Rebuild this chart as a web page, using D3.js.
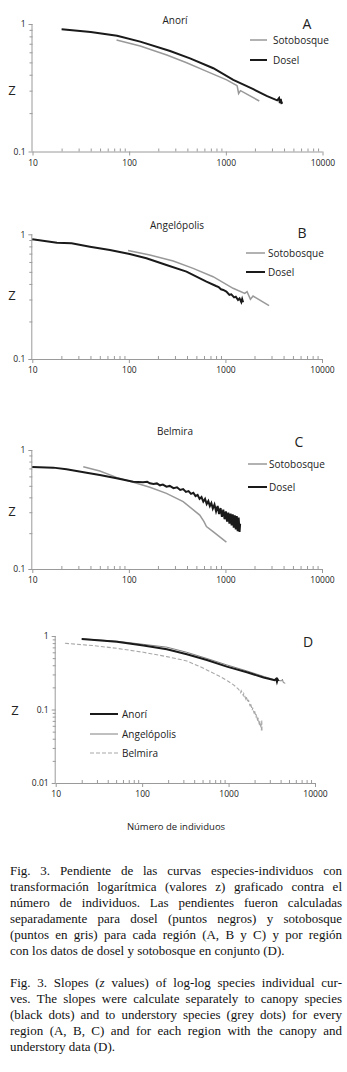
<!DOCTYPE html>
<html><head><meta charset="utf-8">
<script src="https://cdn.jsdelivr.net/npm/d3@7"></script>
<style>
html,body{margin:0;padding:0;background:#fff;}
svg{display:block;}
</style></head>
<body>
<svg id="c" width="347" height="1072"></svg>
<script>
// ---------------- DATA ----------------
const xTickValues = [10, 100, 1000, 10000];
const xTickLabels = ["10", "100", "1000", "10000"];
const yTicksABC = [0.1, 1];
const yTickLabelsABC = ["0.1", "1"];
const yTicksD = [0.01, 0.1, 1];
const yTickLabelsD = ["0.01", "0.1", "1"];
const minorFactors = [2, 3, 4, 5, 6, 7, 8, 9];

const panelTitles = ["Anorí", "Angelópolis", "Belmira"];
const panelLetters = ["A", "B", "C", "D"];
const seriesNamesABC = ["Sotobosque", "Dosel"];
const seriesNamesD = ["Anorí", "Angelópolis", "Belmira"];

// Panel A – Anorí
const anoriSotobosque = [[74,0.75],[130,0.672],[245,0.572],[393,0.497],[634,0.425],[1019,0.365],[1290,0.33],[1310,0.327],[1356,0.285],[1420,0.3],[2218,0.249]];
const anoriDosel = [[20,0.908],[40,0.866],[75,0.81],[130,0.727],[265,0.614],[426,0.538],[742,0.45],[1194,0.364],[1923,0.308],[2640,0.273],[3400,0.252],[3550,0.262],[3620,0.240],[3700,0.258],[3777,0.236],[3800,0.246]];

// Panel B – Angelópolis
const angelSotobosque = [[98,0.74],[165,0.683],[288,0.611],[463,0.533],[745,0.457],[1200,0.369],[1585,0.336],[1675,0.347],[1815,0.301],[1933,0.32],[2831,0.268]];
const angelDosel = [[10,0.912],[18,0.857],[25.5,0.847],[39.5,0.796],[63.6,0.749],[102,0.695],[152,0.642],[245,0.568],[395,0.502],[636,0.417],[800,0.385],[850,0.378],[900,0.362],[950,0.358],[1023,0.347],[1100,0.327],[1150,0.33],[1230,0.312],[1280,0.316],[1350,0.298],[1400,0.306],[1460,0.286],[1490,0.302],[1524,0.285]];

// Panel C – Belmira
const belmiraSotobosque = [[33.7,0.724],[50,0.666],[74.5,0.589],[111,0.535],[165,0.486],[245,0.432],[365,0.368],[542,0.284],[600,0.25],[636,0.227],[745,0.206],[1023,0.168]];
const belmiraDosel = [[10,0.72],[16.5,0.711],[22.6,0.688],[36.5,0.645],[50,0.616],[74.5,0.578],[111,0.542],[140,0.535],[155,0.54],[165,0.525],[180,0.518],[195,0.524],[210,0.505],[225,0.512],[245,0.492],[265,0.499],[290,0.478],[315,0.486],[340,0.462],[365,0.469],[390,0.445],[415,0.452],[440,0.428],[465,0.437],[490,0.41],[515,0.42],[540,0.388],[565,0.402],[590,0.368],[615,0.388],[640,0.352],[665,0.372],[690,0.338],[715,0.358],[740,0.322],[770,0.348],[800,0.305],[830,0.338],[860,0.29],[890,0.325],[920,0.275],[950,0.315],[980,0.262],[1010,0.305],[1040,0.25],[1070,0.298],[1100,0.24],[1130,0.292],[1160,0.232],[1190,0.288],[1220,0.222],[1250,0.282],[1280,0.215],[1310,0.278],[1340,0.208],[1370,0.27],[1400,0.205],[1420,0.24]];

// Panel D – combined
const dAnori = [[20,0.91],[51,0.838],[103.5,0.74],[193,0.659],[329,0.564],[561,0.472],[956,0.383],[1629,0.321],[2540,0.272],[3400,0.25],[3550,0.262],[3630,0.238],[3700,0.256],[3780,0.244]];
const dAngel = [[20,0.915],[51,0.85],[103.5,0.77],[193,0.705],[329,0.6],[561,0.495],[956,0.404],[1629,0.335],[2600,0.28],[3600,0.25],[4100,0.245],[4200,0.258],[4300,0.232],[4530,0.228]];
const dBelmira = [[12.8,0.795],[27.3,0.74],[51,0.68],[103.5,0.6],[193,0.524],[329,0.458],[513,0.364],[800,0.28],[1000,0.24],[1142,0.216],[1300,0.19],[1380,0.17],[1400,0.18],[1480,0.155],[1500,0.165],[1580,0.14],[1600,0.15],[1680,0.125],[1700,0.135],[1780,0.11],[1800,0.12],[1880,0.098],[1900,0.106],[1980,0.088],[2000,0.096],[2080,0.078],[2100,0.086],[2180,0.068],[2200,0.077],[2280,0.06],[2300,0.069],[2400,0.052],[2420,0.072],[2440,0.05]];

const axisTitleX = "Número de individuos";
const axisTitleY = "Z";

const captionES = [
 "Fig. 3. Pendiente de las curvas especies-individuos con",
 "transformación logarítmica (valores z) graficado contra el",
 "número de individuos. Las pendientes fueron calculadas",
 "separadamente para dosel (puntos negros) y sotobosque",
 "(puntos en gris) para cada región (A, B y C) y por región",
 "con los datos de dosel y sotobosque en conjunto (D)."
];
const captionEN = [
 "Fig. 3. Slopes (_z_ values) of log-log species individual cur-",
 "ves. The slopes were calculate separately to canopy species",
 "(black dots) and to understory species (grey dots) for every",
 "region (A, B, C) and for each region with the canopy and",
 "understory data (D)."
];

// ---------------- LAYOUT ----------------
const svg = d3.select("#c");
const SANS = "'Open Sans', 'DejaVu Sans', sans-serif";
const SERIF = "'Liberation Serif', 'Times New Roman', serif";
const AXIS_COLOR = "#9a9a9a";

const panels = [
 {x0:32.5, x1:322.5, yTop:24, yBottom:151.5, dom:[0.1,1], ticks:yTicksABC, labels:yTickLabelsABC,
  title:panelTitles[0], titleX:175, titleY:24, letter:panelLetters[0], letterX:307, letterY:28.5,
  zX:12, zY:95, leg:{x0:250,x1:267,tx:273,y:[40,60]},
  series:[{d:anoriSotobosque,c:"#999",w:1.5},{d:anoriDosel,c:"#1a1a1a",w:2}]},
 {x0:32.3, x1:322, yTop:234.3, yBottom:359, dom:[0.1,1], ticks:yTicksABC, labels:yTickLabelsABC,
  title:panelTitles[1], titleX:177, titleY:229, letter:panelLetters[1], letterX:302, letterY:238,
  zX:12, zY:300, leg:{x0:246,x1:265,tx:268,y:[253,272]},
  series:[{d:angelSotobosque,c:"#999",w:1.5},{d:angelDosel,c:"#1a1a1a",w:2}]},
 {x0:32.3, x1:322, yTop:450, yBottom:569, dom:[0.1,1], ticks:yTicksABC, labels:yTickLabelsABC,
  title:panelTitles[2], titleX:175, titleY:435, letter:panelLetters[2], letterX:299, letterY:447,
  zX:12, zY:516, leg:{x0:248,x1:267,tx:269,y:[464,487]},
  series:[{d:belmiraSotobosque,c:"#999",w:1.5},{d:belmiraDosel,c:"#1a1a1a",w:2}]},
 {x0:55.7, x1:315, yTop:636, yBottom:783, dom:[0.01,1], ticks:yTicksD, labels:yTickLabelsD,
  title:null, letter:panelLetters[3], letterX:308, letterY:647,
  zX:15, zY:715, legD:{x0:90,x1:118,tx:122,y:[714,734,753]},
  series:[{d:dBelmira,c:"#a8a8a8",w:1.1,dash:"4,2"},{d:dAngel,c:"#808080",w:1},{d:dAnori,c:"#1a1a1a",w:2}]}
];

panels.forEach(p => {
  const x = d3.scaleLog().domain([10,10000]).range([p.x0,p.x1]);
  const y = d3.scaleLog().domain(p.dom).range([p.yBottom,p.yTop]);
  const g = svg.append("g");

  const xMinor = [], yMinor = [];
  xTickValues.slice(0,-1).forEach(v => minorFactors.forEach(f => xMinor.push(v*f)));
  p.ticks.slice(0,-1).forEach(v => minorFactors.forEach(f => yMinor.push(v*f)));

  const ya = g.append("g").attr("transform",`translate(${p.x0},0)`)
    .call(d3.axisLeft(y).tickValues(p.ticks).tickFormat((d,i)=>p.labels[i]).tickSize(4).tickPadding(3));
  const yam = g.append("g").attr("transform",`translate(${p.x0},0)`)
    .call(d3.axisLeft(y).tickValues(yMinor).tickFormat("").tickSize(3));
  const xa = g.append("g").attr("transform",`translate(0,${p.yBottom})`)
    .call(d3.axisBottom(x).tickValues(xTickValues).tickFormat((d,i)=>xTickLabels[i]).tickSize(4).tickPadding(4));
  const xam = g.append("g").attr("transform",`translate(0,${p.yBottom})`)
    .call(d3.axisBottom(x).tickValues(xMinor).tickFormat("").tickSize(-3));
  [ya,yam,xa,xam].forEach(a=>{
    a.selectAll(".domain").attr("stroke",AXIS_COLOR).attr("stroke-width",1);
    a.selectAll(".tick line").attr("stroke",AXIS_COLOR);
    a.selectAll("text").attr("font-family",SANS).attr("font-size",8.5).attr("fill","#222");
  });
  yam.select(".domain").remove(); xam.select(".domain").remove();
  ya.select(".domain").attr("d",`M-0.5,${p.yBottom}V${p.yTop}`);
  xa.select(".domain").attr("d",`M${p.x0},0.5H${p.x1}`);

  const line = d3.line().x(d=>x(d[0])).y(d=>y(d[1]));
  p.series.forEach(s=>{
    g.append("path").datum(s.d).attr("d",line).attr("fill","none")
     .attr("stroke",s.c).attr("stroke-width",s.w).attr("stroke-linejoin","miter")
     .attr("stroke-dasharray",s.dash||null);
  });

  if (p.title) g.append("text").attr("x",p.titleX).attr("y",p.titleY).attr("text-anchor","middle")
    .attr("font-family",SANS).attr("font-size",10).attr("fill","#222").text(p.title);
  g.append("text").attr("x",p.letterX).attr("y",p.letterY).attr("text-anchor","middle")
    .attr("font-family",SANS).attr("font-size",14).attr("fill","#222").text(p.letter);
  g.append("text").attr("x",p.zX).attr("y",p.zY).attr("text-anchor","middle")
    .attr("font-family",SANS).attr("font-size",13).attr("fill","#222").text(axisTitleY);

  if (p.leg) {
    p.series.forEach((s,i)=>{
      const ly = p.leg.y[i];
      g.append("line").attr("x1",p.leg.x0).attr("x2",p.leg.x1).attr("y1",ly).attr("y2",ly)
        .attr("stroke",s.c).attr("stroke-width",s.w);
      g.append("text").attr("x",p.leg.tx).attr("y",ly+3.5).attr("font-family",SANS)
        .attr("font-size",10).attr("fill","#222").text(seriesNamesABC[i]);
    });
  }
  if (p.legD) {
    const order = [2,1,0];
    order.forEach((si,i)=>{
      const s = p.series[si], ly = p.legD.y[i];
      g.append("line").attr("x1",p.legD.x0).attr("x2",p.legD.x1).attr("y1",ly).attr("y2",ly)
        .attr("stroke",s.c).attr("stroke-width",s.w).attr("stroke-dasharray",s.dash||null);
      g.append("text").attr("x",p.legD.tx).attr("y",ly+3.5).attr("font-family",SANS)
        .attr("font-size",10).attr("fill","#222").text(seriesNamesD[i]);
    });
  }
});

svg.append("text").attr("x",176).attr("y",830).attr("text-anchor","middle")
  .attr("font-family",SANS).attr("font-size",9.5).attr("fill","#222").text(axisTitleX);

// ---------------- CAPTION (justified) ----------------
const CAP_L = 10, CAP_R = 342, CAP_FS = 13, LH = 16;
function drawParagraph(lines, y0){
  lines.forEach((ln,li)=>{
    const words = ln.split(" ");
    const yy = y0 + li*LH;
    const els = words.map(w=>{
      const t = svg.append("text").attr("y",yy).attr("font-family",SERIF)
        .attr("font-size",CAP_FS).attr("fill","#111");
      if (w.includes("_")) {
        w.split("_").forEach((pt,k)=>{ if(pt) t.append("tspan").attr("font-style",k%2===1?"italic":"normal").text(pt); });
      } else t.text(w);
      return t;
    });
    const widths = els.map(e=>e.node().getComputedTextLength());
    const total = d3.sum(widths);
    const last = li===lines.length-1;
    const gap = last ? CAP_FS*0.25 : (CAP_R-CAP_L-total)/(words.length-1);
    let cx = CAP_L;
    els.forEach((e,i)=>{ e.attr("x",cx); cx += widths[i] + gap; });
  });
}
drawParagraph(captionES, 875);
drawParagraph(captionEN, 987);
</script>
</body></html>
